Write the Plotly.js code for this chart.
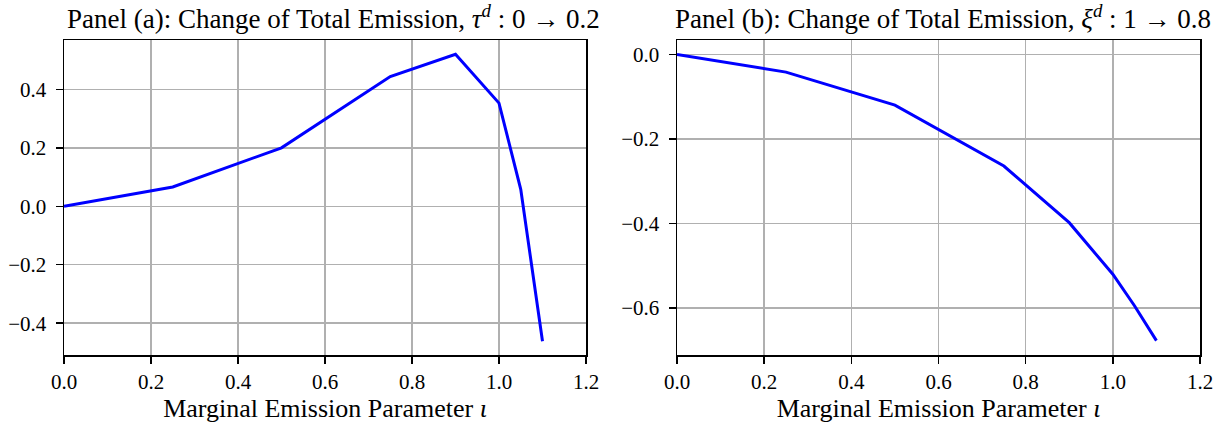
<!DOCTYPE html>
<html>
<head>
<meta charset="utf-8">
<script src="https://cdn.plot.ly/plotly-3.0.1.min.js"></script>
<style>html,body{margin:0;padding:0;background:#fff;}#chart{width:1229px;height:430px;}</style>
</head>
<body>
<div id="chart"></div>
<script>
// Marginal emission parameter (iota)
const iota = [0, 0.25, 0.5, 0.75, 0.9, 1.0, 1.05, 1.1];
// Panel (a): change of total emission, tau^d : 0 -> 0.2
const changeTau = [0, 0.066, 0.2, 0.444, 0.52, 0.353, 0.058, -0.462];
// Panel (b): change of total emission, xi^d : 1 -> 0.8
const changeXi = [0, -0.042, -0.12, -0.264, -0.398, -0.52, -0.595, -0.677];
const xTicks = [0, 0.2, 0.4, 0.6, 0.8, 1.0, 1.2];
const titleA = 'Panel (a): Change of Total Emission, <i>τ</i><sup><i>d</i></sup> : 0 → 0.2';
const titleB = 'Panel (b): Change of Total Emission, <i>ξ</i><sup><i>d</i></sup> : 1 → 0.8';
const xTitle = 'Marginal Emission Parameter <i>ι</i>';

const font = '"Liberation Serif", "DejaVu Serif", serif';
const W = 1229, H = 430;
const px = v => v / W, py = v => (H - v) / H;

const axisCommon = {
  showline: true, mirror: true, linecolor: '#000', linewidth: 1.5,
  ticks: 'outside', ticklen: 7, tickwidth: 1.5, tickcolor: '#000',
  ticklabelstandoff: 5,
  showgrid: true, gridcolor: '#b0b0b0', gridwidth: 1.5,
  zeroline: false, tickfont: {family: font, size: 21, color: '#000'}
};

const traces = [
  {x: iota, y: changeTau, type: 'scatter', mode: 'lines', line: {color: '#0000ff', width: 3}, xaxis: 'x', yaxis: 'y'},
  {x: iota, y: changeXi, type: 'scatter', mode: 'lines', line: {color: '#0000ff', width: 3}, xaxis: 'x2', yaxis: 'y2'}
];

const xa = Object.assign({}, axisCommon, {range: [0, 1.2], tickvals: xTicks, tickformat: '.1f',
  ticklabelstandoff: 0,
  title: {text: xTitle, font: {family: font, size: 26, color: '#000'}, standoff: 4}});

const layout = {
  width: W, height: H,
  margin: {l: 0, r: 0, t: 0, b: 0},
  paper_bgcolor: '#fff', plot_bgcolor: '#fff',
  showlegend: false,
  xaxis: Object.assign({}, xa, {domain: [px(64), px(586)], anchor: 'y'}),
  yaxis: Object.assign({}, axisCommon, {domain: [py(355), py(40)], range: [-0.509, 0.569], dtick: 0.2, tickformat: '.1f', anchor: 'x'}),
  xaxis2: Object.assign({}, xa, {domain: [px(677), px(1200)], anchor: 'y2'}),
  yaxis2: Object.assign({}, axisCommon, {domain: [py(355), py(40)], range: [-0.711, 0.034], dtick: 0.2, tickformat: '.1f', anchor: 'x2'}),
  annotations: [
    {text: titleA, xref: 'paper', yref: 'paper', x: (px(64) + px(586)) / 2 + px(8), y: py(17), xanchor: 'center', yanchor: 'middle', showarrow: false, font: {family: font, size: 27, color: '#000'}},
    {text: titleB, xref: 'paper', yref: 'paper', x: (px(677) + px(1200)) / 2 + px(4), y: py(17), xanchor: 'center', yanchor: 'middle', showarrow: false, font: {family: font, size: 27, color: '#000'}}
  ]
};

Plotly.newPlot('chart', traces, layout, {displayModeBar: false, staticPlot: true});
</script>
</body>
</html>
